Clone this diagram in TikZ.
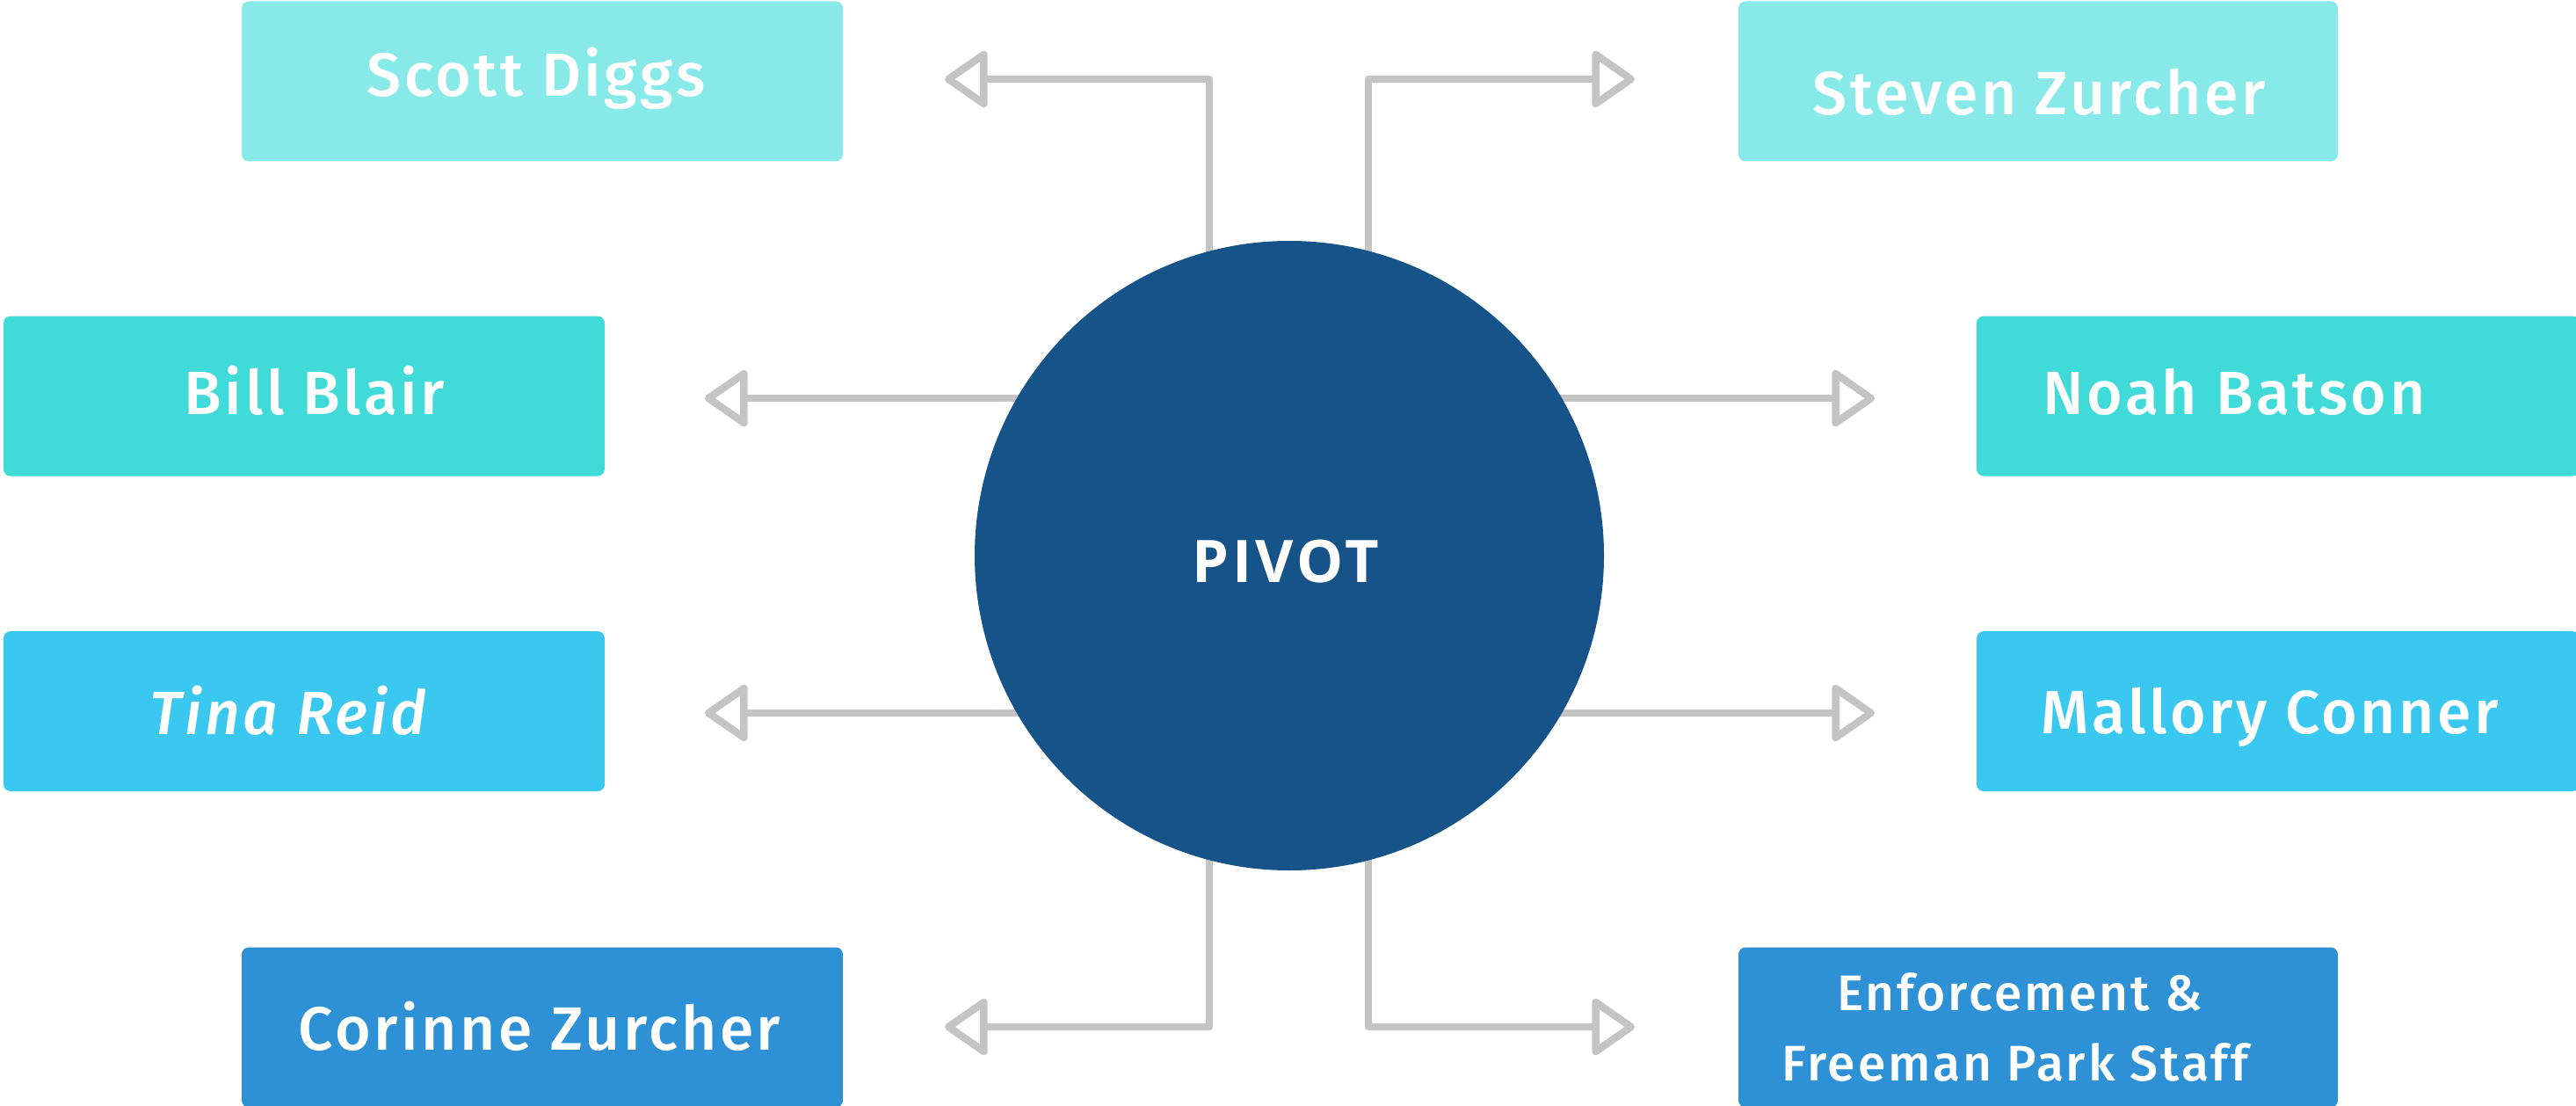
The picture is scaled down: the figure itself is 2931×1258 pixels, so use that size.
\documentclass[tikz,border=0pt]{standalone}
\usepackage{fontspec}
\setmainfont{Fira Sans}[UprightFont=* Medium, ItalicFont=* Medium Italic, LetterSpace=5]
\newfontfamily\pivotfont{Open Sans}[LetterSpace=6]
\usetikzlibrary{arrows.meta,calc}
\pgfdeclarelayer{bg}
\pgfsetlayers{bg,main}
\definecolor{cA}{HTML}{88EAE8}
\definecolor{cB}{HTML}{40DBD8}
\definecolor{cC}{HTML}{3AC8F0}
\definecolor{cD}{HTML}{2E91D6}
\definecolor{circ}{HTML}{165389}
\definecolor{gl}{HTML}{C4C4C4}
\tikzset{
  box/.style={rectangle, rounded corners=0.8mm, inner sep=0pt, minimum height=18.2mm, draw=none},
  lbl/.style={text=white, font=\fontsize{19.8}{23}\selectfont, inner sep=0pt},
  smalllbl/.style={text=white, font=\fontsize{16.2}{20}\selectfont, inner sep=0pt},
  conn/.style={draw=gl, line width=2.4pt, line join=round,
     -{Triangle[open, length=5.2mm, width=7mm, round]}},
}
\begin{document}
\begin{tikzpicture}[x=0.1mm, y=-0.1mm]
\useasboundingbox (0,0) rectangle (2931,1258);
% boxes
\node[box, fill=cA, minimum width=68.4mm] (sd) at (617,92.5) {};
\node[box, fill=cA, minimum width=68.2mm] (sz) at (2319,92.5) {};
\node[box, fill=cB, minimum width=68.4mm] (bb) at (346,450.5) {};
\node[box, fill=cB, minimum width=68.6mm] (nb) at (2592,450.5) {};
\node[box, fill=cC, minimum width=68.4mm] (tr) at (346,809) {};
\node[box, fill=cC, minimum width=68.6mm] (mc) at (2592,809) {};
\node[box, fill=cD, minimum width=68.4mm] (cz) at (617,1168.5) {};
\node[box, fill=cD, minimum width=68.2mm] (ef) at (2319,1168.5) {};
% labels
\node[lbl, anchor=base] (tsd) at (610,110) {Scott Diggs};
\node[lbl, anchor=base] (tsz) at (2320,131) {Steven Zurcher};
\node[lbl, anchor=base] (tbb) at (358,472) {Bill Blair};
\node[lbl, anchor=base west] (tnb) at (2324,472) {Noah Batson};
\node[lbl, anchor=base] (ttr) at (328,835) {\itshape Tina Reid};
\node[lbl, anchor=base west] (tmc) at (2322,834) {Mallory Conner};
\node[lbl, anchor=base] (tcz) at (614,1194) {Corinne Zurcher};
\node[smalllbl, anchor=base] (tef1) at (2298,1149) {Enforcement \&};
\node[smalllbl, anchor=base] (tef2) at (2293,1229) {Freeman Park Staff};
% centre
\node[circle, fill=circ, minimum size=71.6mm, inner sep=0pt] (piv) at (1467,632) {};
\node[text=white, inner sep=0pt, anchor=base, font=\pivotfont\bfseries\fontsize{19}{23}\selectfont] (tpiv) at (1463,662) {PIVOT};
% arrow ends
\coordinate (a1) at (1075,90);
\coordinate (a2) at (1860,90);
\coordinate (a3) at (802,453);
\coordinate (a4) at (2133,453);
\coordinate (a5) at (802,811);
\coordinate (a6) at (2133,811);
\coordinate (a7) at (1075,1168);
\coordinate (a8) at (1860,1168);
\begin{pgfonlayer}{bg}
\draw[conn] ($(piv.center)+(-91,0)$) |- (a1);
\draw[conn] ($(piv.center)+(90,0)$) |- (a2);
\draw[conn] (piv.center |- a3) -- (a3);
\draw[conn] (piv.center |- a4) -- (a4);
\draw[conn] (piv.center |- a5) -- (a5);
\draw[conn] (piv.center |- a6) -- (a6);
\draw[conn] ($(piv.center)+(-91,0)$) |- (a7);
\draw[conn] ($(piv.center)+(90,0)$) |- (a8);
\end{pgfonlayer}
\end{tikzpicture}
\end{document}
